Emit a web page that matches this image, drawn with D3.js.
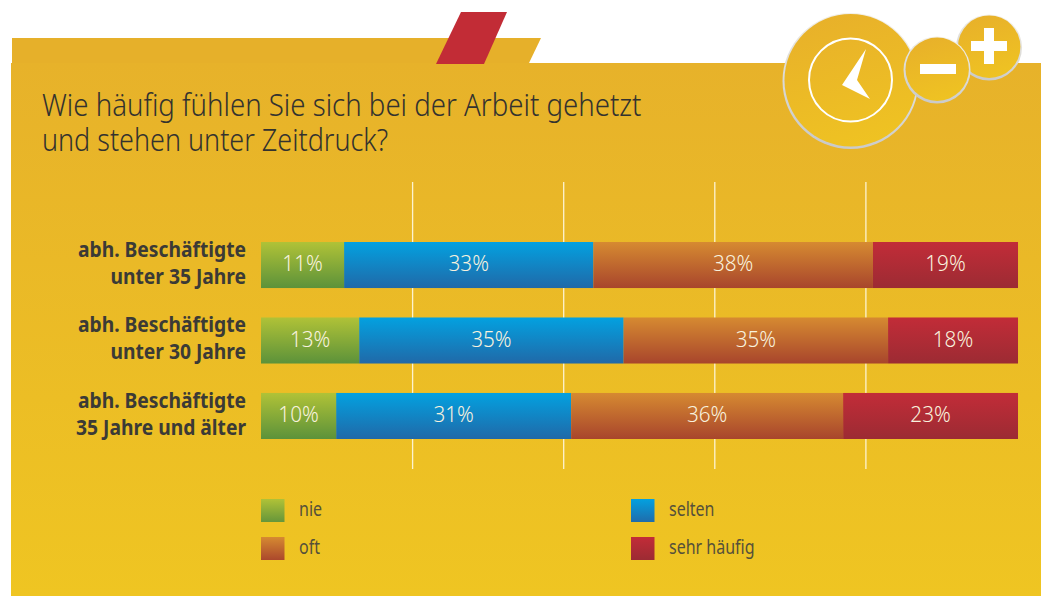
<!DOCTYPE html>
<html><head><meta charset="utf-8">
<script src="https://cdn.jsdelivr.net/npm/d3@7"></script>
<style>html,body{margin:0;padding:0;background:#fff;overflow:hidden}svg{display:block}
text{font-family:"Noto Sans","Open Sans",sans-serif}</style></head>
<body><div id="c"></div>
<script>
const categories=[["abh. Beschäftigte","unter 35 Jahre"],["abh. Beschäftigte","unter 30 Jahre"],["abh. Beschäftigte","35 Jahre und älter"]];
const seriesNames=["nie","selten","oft","sehr häufig"];
const nie=[11,13,9.95];
const selten=[33,35,31.1];
const oft=[37,35,36];
const sehrHaeufig=[19.2,17.2,23.15];
const labelsPct=[["11%","33%","38%","19%"],["13%","35%","35%","18%"],["10%","31%","36%","23%"]];
const gridTicks=[20,40,60,80];
const titleLines=["Wie häufig fühlen Sie sich bei der Arbeit gehetzt","und stehen unter Zeitdruck?"];
const gradients=[["#b0c237","#5c923a"],["#03a1e0","#2069a8"],["#d68a31","#a8452c"],["#c22c38","#9c2b33"]];
const legendGrad=[["#b0c237","#66963a"],["#03a1e0","#1f6cab"],["#d68a31","#ab482c"],["#c22c38","#9c2b33"]];

const W=1046,H=596;
const svg=d3.select("#c").append("svg").attr("width",W).attr("height",H);
const defs=svg.append("defs");
function lin(id,a,b){const g=defs.append("linearGradient").attr("id",id).attr("x1",0).attr("x2",0).attr("y1",0).attr("y2",1);
 g.append("stop").attr("offset",0).attr("stop-color",a);g.append("stop").attr("offset",1).attr("stop-color",b);}
gradients.forEach((g,i)=>lin("g"+i,g[0],g[1]));
legendGrad.forEach((g,i)=>lin("l"+i,g[0],g[1]));
lin("bg","#e7b22a","#efc522");
const cg=defs.append("linearGradient").attr("id","cg").attr("x1",0.35).attr("x2",0.65).attr("y1",0).attr("y2",1);
cg.append("stop").attr("offset",0).attr("stop-color","#e8b12a");cg.append("stop").attr("offset",1).attr("stop-color","#efc322");
const sh=defs.append("linearGradient").attr("id","rim").attr("x1",0.6).attr("x2",0.4).attr("y1",0).attr("y2",1);
sh.append("stop").attr("offset",0).attr("stop-color","#f3f0e8");sh.append("stop").attr("offset",1).attr("stop-color","#c9c9c9");

// condense text horizontally about its own anchor
function condense(sel,f){sel.attr("transform",function(d,i){const a=+this.getAttribute("x"),b=+this.getAttribute("y");
 const k=typeof f==="function"?f(d,i):f;
 return `translate(${a},${b}) scale(${k},1) translate(${-a},${-b})`;});return sel;}

// panel
svg.append("path").attr("d","M12,38H541L529,63H12Z").attr("fill","#e6b02a");
svg.append("rect").attr("x",11).attr("y",63).attr("width",1030).attr("height",533).attr("fill","url(#bg)");
svg.append("path").attr("d","M461,12H507L484,64H436Z").attr("fill","#c22c36");

// badges
function badge(cx,cy,r){
 svg.append("circle").attr("cx",cx).attr("cy",cy).attr("r",r).attr("fill","url(#rim)");
 svg.append("circle").attr("cx",cx+0.2).attr("cy",cy-0.8).attr("r",r-1.8).attr("fill","url(#cg)");
}
badge(850.5,81,68);
svg.append("circle").attr("cx",850.5).attr("cy",80).attr("r",41.5).attr("fill","none").attr("stroke","#fff").attr("stroke-width",2);
svg.append("path").attr("d","M866,49L857,80L870,99L842,85Z").attr("fill","#fff");
badge(989,47.5,33);
svg.append("rect").attr("x",971).attr("y",41).attr("width",36).attr("height",10).attr("fill","#fff");
svg.append("rect").attr("x",984).attr("y",28).attr("width",10).attr("height",36).attr("fill","#fff");
badge(937,70,33.5);
svg.append("rect").attr("x",920).attr("y",64).attr("width",36).attr("height",10).attr("fill","#fff");

// title
condense(svg.append("g").selectAll("text").data(titleLines).join("text")
 .attr("x",42).attr("y",(d,i)=>116+i*35).attr("font-size",32).attr("font-weight",300).attr("fill","#33322f").text(d=>d),(d,i)=>i?0.843:0.863);

// scales
const x=d3.scaleLinear().domain([0,100]).range([261,1016.5]);
const y=d3.scaleBand().domain(d3.range(categories.length)).range([242,439]).paddingInner(0.39);

// grid
const grid=svg.append("g").attr("transform","translate(0,182)").call(d3.axisBottom(x).tickValues(gridTicks).tickSize(287).tickFormat(""));
grid.select(".domain").remove();
grid.selectAll("line").attr("stroke","#fdf3d0").attr("stroke-width",1.3);

// stacks
const rows=categories.map((c,i)=>({i,nie:nie[i],selten:selten[i],oft:oft[i],sehr:sehrHaeufig[i]}));
const stack=d3.stack().keys(["nie","selten","oft","sehr"])(rows);
stack.forEach((s,k)=>{
 const g=svg.append("g");
 g.selectAll("rect").data(s).join("rect")
  .attr("x",d=>x(d[0])).attr("width",d=>x(d[1])-x(d[0]))
  .attr("y",d=>y(d.data.i)).attr("height",y.bandwidth()).attr("fill",`url(#g${k})`);
 condense(g.selectAll("text").data(s).join("text")
  .attr("x",d=>(x(d[0])+x(d[1]))/2).attr("y",d=>y(d.data.i)+29.5)
  .attr("text-anchor","middle").attr("font-size",22.5).attr("font-weight",300).attr("fill","#f8f2de")
  .text(d=>labelsPct[d.data.i][k]),0.92);
});

// category labels
categories.forEach((c,i)=>{
 condense(svg.append("g").selectAll("text").data(c).join("text")
  .attr("x",246).attr("y",(d,j)=>y(i)+15+j*27).attr("text-anchor","end")
  .attr("font-size",22).attr("font-weight","bold").attr("fill","#3b3a36").text(d=>d),0.875);
});

// legend
const lx=d3.scalePoint().domain([0,1]).range([261,631]);
const ly=d3.scalePoint().domain([0,1]).range([499,537]);
seriesNames.forEach((n,i)=>{
 const cx=lx(i%2),cy=ly(i>>1);
 svg.append("rect").attr("x",cx).attr("y",cy).attr("width",23.5).attr("height",23).attr("fill",`url(#l${i})`);
 condense(svg.append("text").attr("x",cx+38).attr("y",cy+17).attr("font-size",20).attr("fill","#55503a").text(n),0.8);
});
</script></body></html>
